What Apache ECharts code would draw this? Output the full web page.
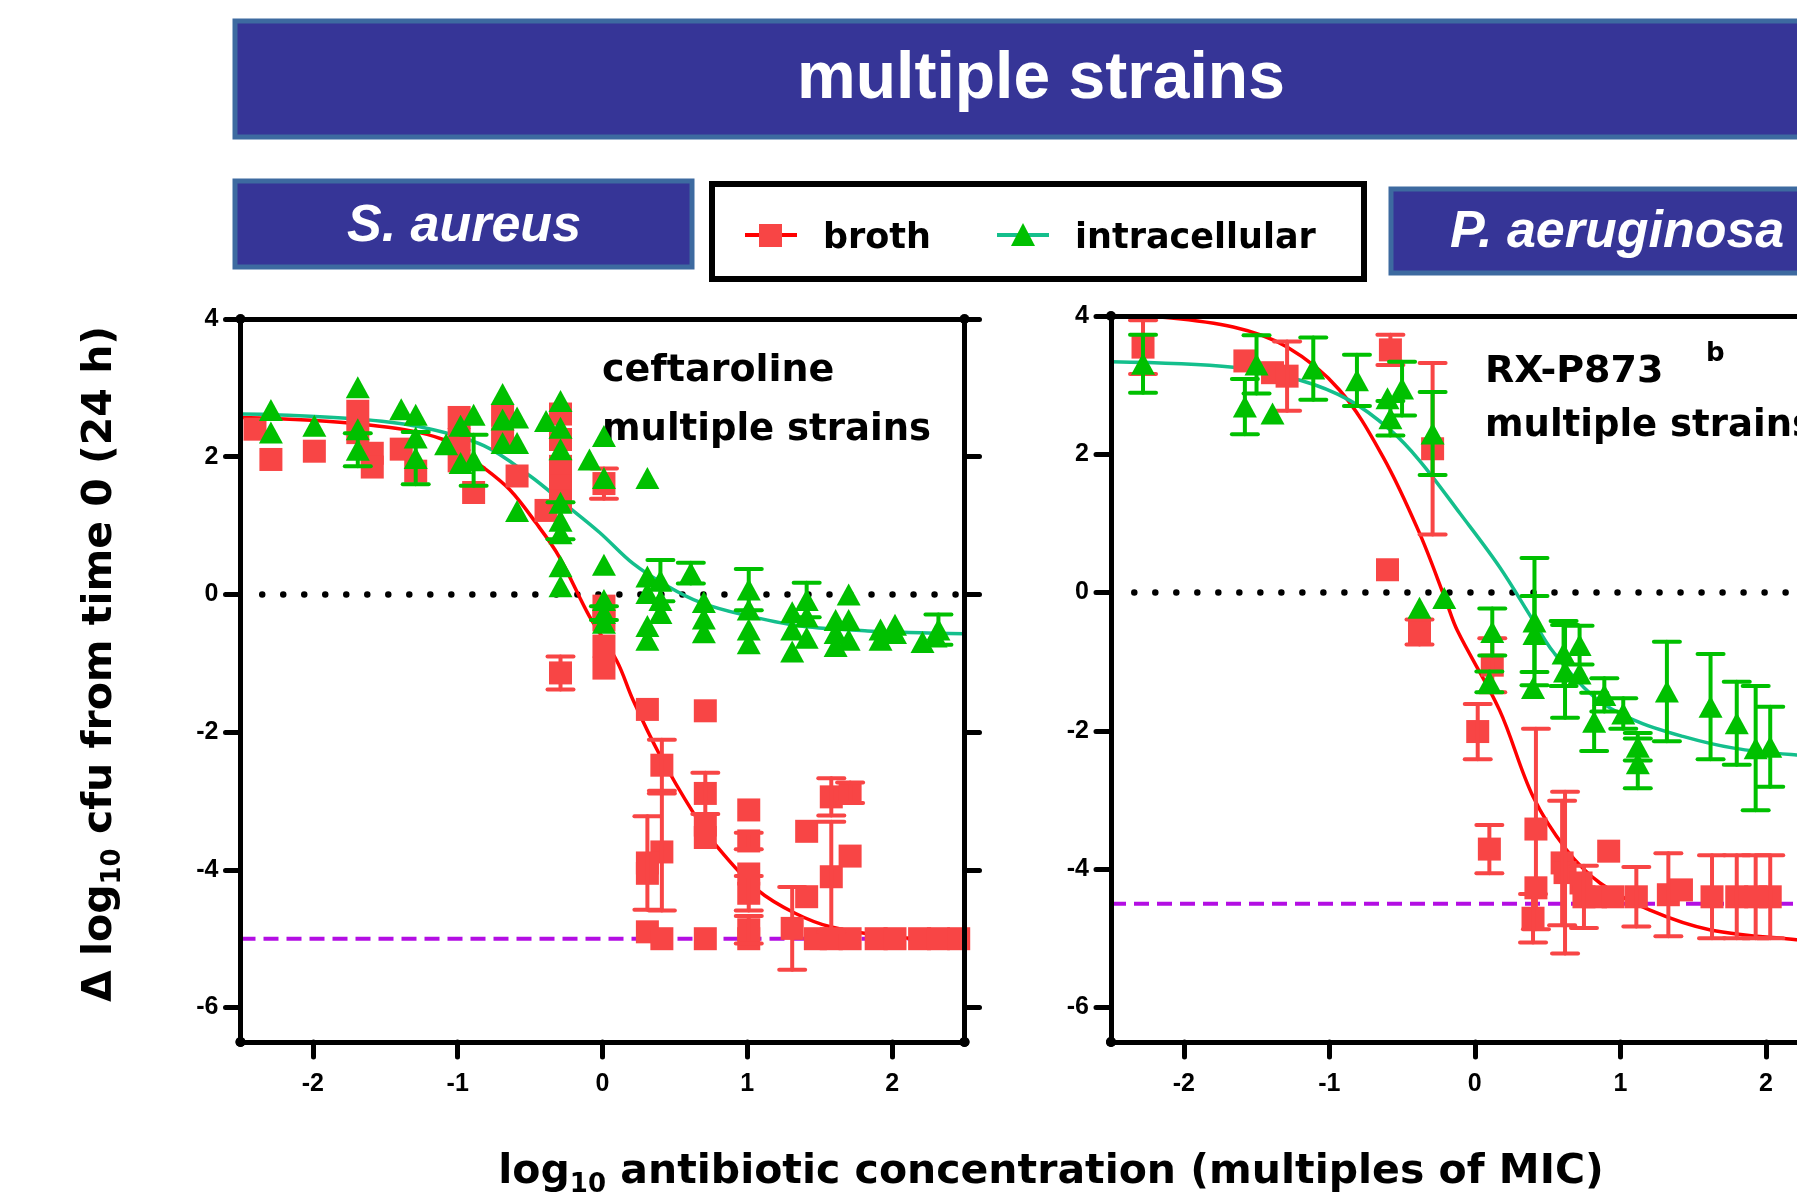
<!DOCTYPE html>
<html><head><meta charset="utf-8">
<script src="https://cdn.jsdelivr.net/npm/echarts@6/dist/echarts.min.js"></script>
<style>html,body{margin:0;padding:0;background:#fff}#c{width:1797px;height:1194px}</style>
</head><body><div id="c"></div><script>
// ---------- tick values ----------
const xTicks = [-2, -1, 0, 1, 2];
const yTicks = [-6, -4, -2, 0, 2, 4];

// ---------- S. aureus / ceftaroline (left panel) ----------
const saBrothX = [-2.40,-2.29,-1.99,-1.69,-1.69,-1.59,-1.59,-1.39,-1.29,-0.99,-0.99,-0.99,-0.89,-0.69,-0.69,-0.59,-0.39,-0.29,-0.29,-0.29,-0.29,-0.29,-0.29,0.01,0.01,0.01,0.01,0.01,0.31,0.71,0.41,0.41,0.31,0.31,0.31,0.41,0.71,0.71,0.71,0.71,1.01,1.01,1.01,1.01,1.01,1.01,1.31,1.41,1.41,1.47,1.58,1.71,1.58,1.71,1.58,1.71,1.89,2.02,2.19,2.32,2.46];
const saBrothY = [2.40,1.96,2.08,2.66,2.35,2.05,1.85,2.11,1.79,2.57,2.25,1.94,1.48,2.60,2.26,1.72,1.22,2.62,2.25,1.86,1.58,1.36,-1.14,1.61,-0.17,-0.37,-0.75,-1.07,-1.67,-1.69,-2.48,-3.74,-3.90,-4.05,-4.90,-5.00,-5.00,-2.89,-3.35,-3.53,-3.13,-3.58,-4.06,-4.34,-4.87,-5.00,-4.85,-4.39,-3.44,-5.00,-2.94,-2.88,-4.10,-3.80,-5.00,-5.00,-5.00,-5.00,-5.00,-5.00,-5.00];
const saBrothErr = [0,0,0,0,0,0,0,0,0,0,0,0,0,0,0,0,0,0,0,0,0,0,0.24,0.22,0,0,0,0,0,0,0.37,0.85,0.68,0,0,0,0,0.30,0,0,0,0.12,0,0.25,0.20,0,0.60,0,0,0,0.27,0.15,0.80,0,0,0,0,0,0,0,0];

const saIntraX = [-2.29,-2.29,-1.99,-1.69,-1.69,-1.69,-1.39,-1.29,-1.29,-1.29,-1.08,-0.98,-0.98,-0.89,-0.89,-0.69,-0.69,-0.69,-0.59,-0.59,-0.59,-0.39,-0.29,-0.29,-0.29,-0.29,-0.29,-0.29,-0.29,-0.29,-0.09,0.01,0.01,0.01,0.01,0.01,0.01,0.31,0.31,0.31,0.31,0.31,0.40,0.40,0.40,0.61,0.70,0.70,0.70,1.01,1.01,1.01,1.01,1.31,1.31,1.31,1.41,1.41,1.41,1.61,1.61,1.61,1.70,1.70,1.70,1.92,1.92,2.02,2.02,2.21,2.32,2.30];
const saIntraY = [2.68,2.35,2.45,3.01,2.40,2.10,2.69,2.61,2.28,1.98,2.18,2.45,1.91,2.61,1.95,2.91,2.54,2.20,2.57,2.20,1.21,2.52,2.81,2.42,2.11,1.33,1.07,0.89,0.41,0.12,1.96,2.30,1.69,0.43,-0.08,-0.27,-0.41,1.69,0.26,0.02,-0.46,-0.66,0.20,-0.08,-0.27,0.31,-0.11,-0.35,-0.55,0.07,-0.22,-0.51,-0.71,-0.26,-0.51,-0.83,-0.08,-0.32,-0.63,-0.37,-0.56,-0.75,0.00,-0.37,-0.66,-0.51,-0.66,-0.44,-0.56,-0.69,-0.51,-0.61];
const saIntraErr = [0,0,0,0,0,0.24,0,0,0,0.38,0,0,0,0,0.37,0,0,0,0,0,0,0,0,0,0,0,0.27,0,0,0,0,0,0,0,0,0.10,0,0,0,0,0,0,0.30,0,0,0.15,0,0,0,0.30,0,0,0,0,0,0,0.25,0,0,0,0,0,0,0,0,0,0,0,0,0,0.22,0];

const saBrothFitX = [-2.5,-1.65,-1.1,-0.82,-0.64,-0.46,-0.3,-0.09,0.10,0.21,0.40,0.63,0.79,1.07,1.33,1.58,2.0,2.5];
const saBrothFitY = [2.57,2.47,2.25,1.84,1.52,1.04,0.55,-0.32,-0.97,-1.53,-2.35,-3.18,-3.66,-4.29,-4.63,-4.83,-4.97,-5.02];
const saIntraFitX = [-2.5,-2.25,-1.65,-1.23,-0.82,-0.5,-0.27,-0.02,0.21,0.45,0.68,0.96,1.37,1.83,2.5];
const saIntraFitY = [2.62,2.61,2.54,2.42,2.16,1.72,1.33,0.90,0.45,0.12,-0.12,-0.29,-0.46,-0.53,-0.57];

const saZeroLineX = [-2.35, 2.5];
const saLimitLineX = [-2.5, 2.5];
const saLimitY = -5;

// ---------- P. aeruginosa / RX-P873 (right panel, cut at the page edge) ----------
const paBrothX = [-2.28,-1.58,-1.39,-1.29,-0.58,-0.29,-0.60,-0.38,0.12,0.02,0.10,0.42,0.42,0.40,0.60,0.62,0.73,0.75,0.92,0.83,0.95,1.11,1.33,1.42,1.63,1.80,1.93,2.03];
const paBrothY = [3.55,3.35,3.18,3.13,3.51,2.08,0.33,-0.57,-1.05,-2.01,-3.71,-3.42,-4.27,-4.71,-3.91,-4.05,-4.20,-4.40,-3.74,-4.40,-4.40,-4.40,-4.37,-4.30,-4.40,-4.40,-4.40,-4.40];
const paBrothErr = [0.39,0,0,0.50,0.22,1.24,0,0.18,0.39,0.40,0.35,1.45,0,0.35,0.90,1.17,0,0.45,0,0,0,0.43,0.60,0,0.60,0.60,0.60,0.60];

const paIntraX = [-2.28,-1.58,-1.50,-1.39,-1.11,-0.81,-0.60,-0.50,-0.58,-0.29,-0.38,-0.21,0.12,0.10,0.41,0.41,0.40,0.61,0.62,0.72,0.72,0.89,0.82,1.02,1.12,1.12,1.32,1.62,1.80,1.93,2.03];
const paIntraY = [3.31,2.69,3.30,2.59,3.24,3.07,2.81,2.95,2.52,2.30,-0.22,-0.08,-0.57,-1.29,-0.42,-0.60,-1.38,-0.88,-1.14,-0.76,-1.17,-1.48,-1.87,-1.75,-2.23,-2.47,-1.43,-1.65,-1.89,-2.25,-2.23];
const paIntraErr = [0.42,0.40,0.42,0,0.45,0.37,0,0.39,0.25,0.60,0,0,0.34,0.15,0.92,0.55,0,0.47,0.67,0.28,0,0.24,0.42,0.22,0.20,0.36,0.72,0.76,0.60,0.90,0.58];

const paBrothFitX = [-2.5,-2.23,-1.66,-1.29,-0.93,-0.63,-0.38,-0.2,-0.12,0.17,0.40,0.63,0.86,1.2,1.62,2.21,2.5];
const paBrothFitY = [4.03,4.0,3.84,3.55,2.93,1.96,0.86,-0.11,-0.55,-1.7,-2.95,-3.72,-4.2,-4.59,-4.88,-5.02,-5.06];
const paIntraFitX = [-2.5,-1.66,-1.2,-0.86,-0.58,-0.38,-0.1,0.17,0.40,0.54,0.82,1.09,1.43,1.78,2.21,2.5];
const paIntraFitY = [3.34,3.26,3.07,2.78,2.35,1.91,1.14,0.37,-0.40,-0.86,-1.51,-1.84,-2.08,-2.25,-2.35,-2.38];

const paZeroLineX = [-2.34, 2.5];
const paLimitLineX = [-2.5, 2.5];
const paLimitY = -4.5;

// visible x range of each panel (the right one is cut by the page edge)
const saXRange = [-2.5, 2.5];
const paXRange = [-2.5, 2.214];

// ---------- styles ----------
const RED_MARK = '#f84545', RED_LINE = '#ff0000', GREEN_MARK = '#00c000', TEAL_LINE = '#14bf8c', PURPLE = '#b30ee3';
const TICK_FONT = 'Liberation Sans';

const zip = (a, b) => a.map((v, i) => [v, b[i]]);

function axisPair(g, xr, rightVisible) {
  const lineStyle = { color: '#000', width: 5, cap: 'round' };
  const endSym = rightVisible ? ['circle', 'circle'] : ['circle', 'none'];
  const xs = [
    { gridIndex: g, type: 'value', min: xr[0], max: xr[1], position: 'bottom', z: 10,
      axisLine: { show: true, onZero: false, symbol: endSym, symbolSize: [10, 10], lineStyle },
      axisTick: { show: true, inside: false, length: 15, customValues: xTicks, lineStyle },
      axisLabel: { show: true, customValues: xTicks, margin: 30, color: '#000', fontFamily: TICK_FONT, fontWeight: 'bold', fontSize: 25 },
      splitLine: { show: false } },
    { gridIndex: g, type: 'value', min: xr[0], max: xr[1], position: 'top', z: 10,
      axisLine: { show: true, onZero: false, lineStyle }, axisTick: { show: false }, axisLabel: { show: false }, splitLine: { show: false } }
  ];
  const ys = [
    { gridIndex: g, type: 'value', min: -6.5, max: 4, position: 'left', z: 10,
      axisLine: { show: true, onZero: false, symbol: ['circle', 'circle'], symbolSize: [10, 10], lineStyle },
      axisTick: { show: true, inside: false, length: 15, customValues: yTicks, lineStyle },
      axisLabel: { show: true, customValues: yTicks, margin: 22, color: '#000', fontFamily: TICK_FONT, fontWeight: 'bold', fontSize: 25 },
      splitLine: { show: false } },
    { gridIndex: g, type: 'value', min: -6.5, max: 4, position: 'right', z: 10, show: rightVisible,
      axisLine: { show: true, onZero: false, symbol: ['circle', 'circle'], symbolSize: [10, 10], lineStyle },
      axisTick: { show: true, inside: false, length: 15, customValues: yTicks, lineStyle },
      axisLabel: { show: false }, splitLine: { show: false } }
  ];
  return { xs, ys };
}

function errorBars(name, xs, ys, errs, ax, color, z) {
  const data = [];
  xs.forEach((x, i) => { if (errs[i] > 0) data.push([x, ys[i] - errs[i], ys[i] + errs[i]]); });
  return {
    name, type: 'custom', xAxisIndex: ax, yAxisIndex: ax, z, clip: true, silent: true,
    encode: { x: 0, y: [1, 2] }, data,
    renderItem(params, api) {
      const x = api.value(0);
      const p1 = api.coord([x, api.value(2)]);
      const p2 = api.coord([x, api.value(1)]);
      const hw = 13;
      const style = { stroke: color, lineWidth: 4, lineCap: 'round' };
      return { type: 'group', children: [
        { type: 'line', shape: { x1: p1[0], y1: p1[1], x2: p2[0], y2: p2[1] }, style },
        { type: 'line', shape: { x1: p1[0] - hw, y1: p1[1], x2: p1[0] + hw, y2: p1[1] }, style },
        { type: 'line', shape: { x1: p2[0] - hw, y1: p2[1], x2: p2[0] + hw, y2: p2[1] }, style }
      ] };
    }
  };
}

function panelSeries(ax, d) {
  return [
    { name: 'zero', type: 'line', xAxisIndex: ax, yAxisIndex: ax, z: 1, silent: true, symbol: 'none',
      data: d.zeroX.map(x => [x, 0]), lineStyle: { color: '#000', width: 6.5, type: [0.01, 21], cap: 'round' } },
    { name: 'limit', type: 'line', xAxisIndex: ax, yAxisIndex: ax, z: 1, silent: true, symbol: 'none',
      data: d.limitX.map(x => [x, d.limitY]), lineStyle: { color: PURPLE, width: 4, type: [15, 8] } },
    { name: 'broth fit', type: 'line', xAxisIndex: ax, yAxisIndex: ax, z: 2, silent: true, symbol: 'none', smooth: 0.35, clip: true,
      data: zip(d.bfx, d.bfy), lineStyle: { color: RED_LINE, width: 3.5 } },
    { name: 'intracellular fit', type: 'line', xAxisIndex: ax, yAxisIndex: ax, z: 2, silent: true, symbol: 'none', smooth: 0.35, clip: true,
      data: zip(d.ifx, d.ify), lineStyle: { color: TEAL_LINE, width: 3.5 } },
    { name: 'broth', type: 'scatter', xAxisIndex: ax, yAxisIndex: ax, z: 3, symbol: 'rect', symbolSize: 23,
      data: zip(d.bx, d.by), itemStyle: { color: RED_MARK, opacity: 1 } },
    errorBars('broth err', d.bx, d.by, d.be, ax, RED_MARK, 4),
    { name: 'intracellular', type: 'scatter', xAxisIndex: ax, yAxisIndex: ax, z: 5, symbol: 'triangle', symbolSize: [24, 22],
      data: zip(d.ix, d.iy), itemStyle: { color: GREEN_MARK, opacity: 1 } },
    errorBars('intracellular err', d.ix, d.iy, d.ie, ax, GREEN_MARK, 6)
  ];
}

const left = axisPair(0, saXRange, true), right = axisPair(1, paXRange, false);

const whiteBold = (size, italic) => `${italic ? 'italic ' : ''}bold ${size}px "Liberation Sans"`;
const txtFont = size => `bold ${size}px "DejaVu Sans"`;

function txt(text, x, y, font, fill, align, extra) {
  return Object.assign({ type: 'text', x, y, silent: true,
    style: { text, font, fill, align: align, verticalAlign: 'middle', textAlign: align, textVerticalAlign: 'middle' } }, extra || {});
}

const graphic = [
  { type: 'rect', shape: { x: 235, y: 21, width: 1620, height: 116 }, style: { fill: '#363597', stroke: '#3d6aa0', lineWidth: 5 }, silent: true },
  txt('multiple strains', 1041, 80, whiteBold(66), '#fff', 'center'),
  { type: 'rect', shape: { x: 235, y: 181, width: 457, height: 86 }, style: { fill: '#363597', stroke: '#3d6aa0', lineWidth: 5 }, silent: true },
  txt('S. aureus', 464, 227, whiteBold(52, true), '#fff', 'center'),
  { type: 'rect', shape: { x: 1391, y: 189, width: 460, height: 84 }, style: { fill: '#363597', stroke: '#3d6aa0', lineWidth: 5 }, silent: true },
  txt('P. aeruginosa', 1450, 233, whiteBold(52, true), '#fff', 'left'),
  // legend
  { type: 'rect', shape: { x: 712, y: 184, width: 652, height: 95 }, style: { fill: '#fff', stroke: '#000', lineWidth: 6 }, silent: true },
  { type: 'line', shape: { x1: 745, y1: 235, x2: 797, y2: 235 }, style: { stroke: RED_LINE, lineWidth: 4 }, silent: true },
  { type: 'rect', shape: { x: 759, y: 224, width: 23, height: 23 }, style: { fill: RED_MARK }, silent: true },
  txt('broth', 823, 239, txtFont(35), '#000', 'left'),
  { type: 'line', shape: { x1: 997, y1: 235, x2: 1049, y2: 235 }, style: { stroke: TEAL_LINE, lineWidth: 4 }, silent: true },
  { type: 'polygon', shape: { points: [[1023, 223], [1035, 246], [1011, 246]] }, style: { fill: GREEN_MARK }, silent: true },
  txt('intracellular', 1075, 239, txtFont(35), '#000', 'left'),
  // panel annotations
  txt('ceftaroline', 602, 371, txtFont(38), '#000', 'left'),
  txt('multiple strains', 602, 430, txtFont(37), '#000', 'left'),
  txt('RX-P873', 1485, 372, txtFont(38), '#000', 'left'),
  txt('b', 1706, 354, txtFont(26), '#000', 'left'),
  txt('multiple strains', 1485, 426, txtFont(37), '#000', 'left'),
  // axis titles
  { type: 'text', x: 100, y: 664, rotation: Math.PI / 2, silent: true,
    style: { text: '{m|\u0394 log}{s|10}{m| cfu from time 0 (24 h)}', align: 'center', verticalAlign: 'middle', textAlign: 'center', textVerticalAlign: 'middle',
      rich: { m: { font: txtFont(41), fill: '#000', lineHeight: 52, verticalAlign: 'middle' }, s: { font: txtFont(26), fill: '#000', lineHeight: 52, verticalAlign: 'bottom' } } } },
  { type: 'text', x: 1051, y: 1172, silent: true,
    style: { text: '{m|log}{s|10}{m| antibiotic concentration (multiples of MIC)}', align: 'center', verticalAlign: 'middle', textAlign: 'center', textVerticalAlign: 'middle',
      rich: { m: { font: txtFont(41), fill: '#000', lineHeight: 52, verticalAlign: 'middle' }, s: { font: txtFont(26), fill: '#000', lineHeight: 52, verticalAlign: 'bottom' } } } }
];

const option = {
  animation: false,
  backgroundColor: '#fff',
  grid: [
    { left: 240.5, top: 319, width: 724, height: 723 },
    { left: 1111, top: 316, right: 0, height: 726 }
  ],
  xAxis: [...left.xs, ...right.xs],
  yAxis: [...left.ys, ...right.ys],
  graphic,
  series: [
    ...panelSeries(0, { zeroX: saZeroLineX, limitX: saLimitLineX, limitY: saLimitY, bfx: saBrothFitX, bfy: saBrothFitY, ifx: saIntraFitX, ify: saIntraFitY,
      bx: saBrothX, by: saBrothY, be: saBrothErr, ix: saIntraX, iy: saIntraY, ie: saIntraErr }),
    ...panelSeries(2, { zeroX: paZeroLineX, limitX: paLimitLineX, limitY: paLimitY, bfx: paBrothFitX, bfy: paBrothFitY, ifx: paIntraFitX, ify: paIntraFitY,
      bx: paBrothX, by: paBrothY, be: paBrothErr, ix: paIntraX, iy: paIntraY, ie: paIntraErr })
  ]
};

const chart = echarts.init(document.getElementById('c'), null, { renderer: 'canvas', width: 1797, height: 1194 });
chart.setOption(option);
</script></body></html>
